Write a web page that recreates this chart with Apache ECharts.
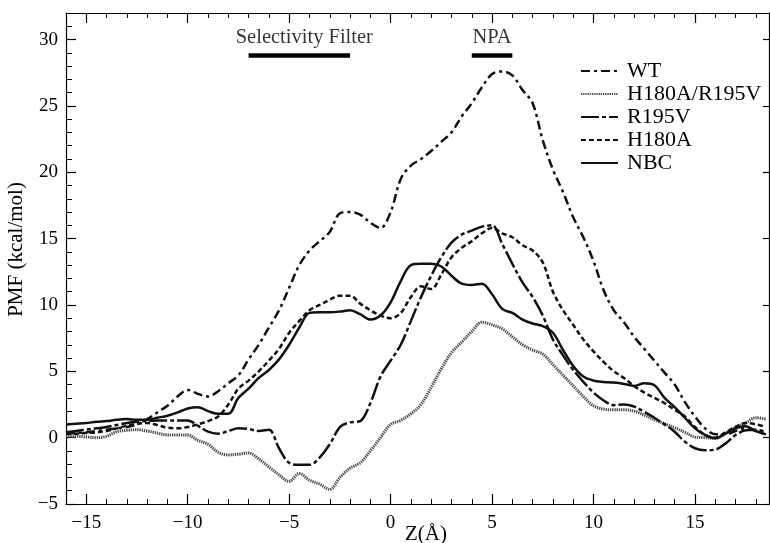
<!DOCTYPE html>
<html>
<head>
<meta charset="utf-8">
<script src="https://cdn.jsdelivr.net/npm/echarts@6/dist/echarts.min.js"></script>
<style>
html,body{margin:0;padding:0;background:#fff;}
#chart{width:770px;height:543px;}
</style>
</head>
<body>
<div id="chart"></div>
<script>
// ---- data ----
const xs = [-16,-15.5,-15,-14.5,-14,-13.5,-13,-12.5,-12,-11.5,-11,-10.5,-10,-9.5,-9,-8.5,-8,-7.5,-7,-6.5,-6,-5.5,-5,-4.5,-4,-3.5,-3,-2.5,-2,-1.5,-1,-0.5,0,0.5,1,1.5,2,2.5,3,3.5,4,4.5,5,5.5,6,6.5,7,7.5,8,8.5,9,9.5,10,10.5,11,11.5,12,12.5,13,13.5,14,14.5,15,15.5,16,16.5,17,17.5,18,18.5];

const wt = [0.3,0.35,0.4,0.5,0.6,0.7,0.8,1.0,1.4,1.9,2.4,3.1,3.6,3.3,3.1,3.5,4.1,4.7,5.9,7.0,8.3,9.6,11.3,13.0,14.1,14.8,15.5,16.9,17.0,16.8,16.2,15.8,17.0,19.5,20.5,21.0,21.6,22.3,23.0,24.2,25.2,26.4,27.4,27.6,27.3,26.2,25.2,22.4,20.2,18.5,16.6,15.1,13.3,11.1,9.6,8.7,7.6,6.7,5.8,4.9,4.0,2.7,1.6,0.7,0.25,0.25,0.5,0.7,0.5,0.2];

const h180aR195v = [0.1,0.1,0.05,0.0,0.1,0.45,0.55,0.6,0.5,0.35,0.2,0.2,0.2,-0.2,-0.5,-1.1,-1.3,-1.25,-1.15,-1.6,-2.2,-2.8,-3.3,-2.7,-3.2,-3.5,-3.9,-3.0,-2.3,-1.9,-1.0,0.0,1.0,1.3,1.8,2.5,3.8,5.2,6.4,7.2,8.0,8.7,8.5,8.2,7.6,7.0,6.6,6.3,5.5,4.7,3.9,3.1,2.4,2.15,2.1,2.1,2.0,1.7,1.35,1.05,0.75,0.4,0.05,0.0,-0.05,0.3,0.8,1.1,1.5,1.4];

const r195v = [0.4,0.5,0.6,0.7,0.8,0.95,1.1,1.2,1.25,1.3,1.3,1.3,1.3,0.9,0.45,0.3,0.5,0.7,0.65,0.5,0.6,-0.8,-1.9,-2.05,-2.05,-1.5,-0.5,0.8,1.15,1.25,2.6,4.6,5.8,7.0,8.8,10.6,12.2,13.6,14.7,15.3,15.6,15.9,16.0,14.6,13.1,11.7,10.6,9.2,7.4,6.2,5.1,4.2,3.4,2.8,2.45,2.5,2.35,1.95,1.5,1.0,0.45,-0.3,-0.8,-0.95,-0.9,-0.45,0.2,0.55,0.6,0.4];

const h180a = [0.3,0.3,0.35,0.4,0.5,0.7,0.9,1.05,1.1,0.95,0.75,0.7,0.8,1.0,1.25,1.6,2.5,3.7,4.3,5.0,5.8,6.7,7.9,8.8,9.6,10.0,10.4,10.7,10.7,10.1,9.6,9.2,9.0,9.4,10.6,11.4,11.2,12.3,13.6,14.3,14.8,15.4,15.8,15.4,15.1,14.5,14.1,13.2,11.0,9.6,8.5,7.4,6.5,5.7,5.0,4.5,3.9,3.4,3.0,2.6,2.1,1.6,0.8,0.2,0.0,0.4,0.8,1.1,1.0,0.8];

const nbc = [1.0,1.05,1.1,1.2,1.25,1.35,1.4,1.35,1.35,1.5,1.65,1.9,2.2,2.3,2.0,1.8,1.8,3.0,3.7,4.5,5.1,5.9,7.0,8.3,9.4,9.45,9.45,9.5,9.6,9.3,8.9,9.2,10.2,11.8,13.0,13.1,13.1,12.9,12.2,11.6,11.5,11.6,10.8,9.7,9.4,8.9,8.6,8.4,7.9,6.6,5.4,4.6,4.3,4.2,4.15,4.05,3.9,4.1,3.95,3.0,2.3,1.5,0.7,0.2,-0.05,0.3,0.7,0.85,0.5,0.25];

const seriesNames = ['WT', 'H180A/R195V', 'R195V', 'H180A', 'NBC'];
const xMajorTicks = [-15, -10, -5, 0, 5, 10, 15];
const xMinorTicks = [-16,-15,-14,-13,-12,-11,-10,-9,-8,-7,-6,-5,-4,-3,-2,-1,0,1,2,3,4,5,6,7,8,9,10,11,12,13,14,15,16,17,18];
const yMajorTicks = [-5, 0, 5, 10, 15, 20, 25, 30];
const yMinorTicks = [-5,-4,-3,-2,-1,0,1,2,3,4,5,6,7,8,9,10,11,12,13,14,15,16,17,18,19,20,21,22,23,24,25,26,27,28,29,30,31];
const regionNames = ['Selectivity Filter', 'NPA'];
const regionStart = [-7, 4];
const regionEnd = [-2, 6];
const regionLevel = 28.8;

// ---- chart ----
const FONT = 'Liberation Serif';
const BLACK = '#000';
const fmt = v => (v < 0 ? '\u2212' + Math.abs(v) : String(v));
const pairs = arr => xs.map((x, i) => [x, arr[i]]);

const styles = [
  { color: '#111', width: 2.5, type: [9, 4, 3, 4] },
  { color: '#4a4a4a', width: 3, type: [1.3, 0.9] },
  { color: '#111', width: 2.5, type: [18, 3, 4, 3] },
  { color: '#111', width: 2.5, type: [5, 3] },
  { color: '#111', width: 2.5, type: 'solid' }
];
const values = [wt, h180aR195v, r195v, h180a, nbc];

const XMIN = -16, XMAX = 18.65, YMIN = -5, YMAX = 32;
const axisLine = { show: true, onZero: false, lineStyle: { color: BLACK, width: 1.2 } };
const hiddenLine = { show: false, onZero: false };

const series = values.map((arr, i) => ({
  name: seriesNames[i],
  type: 'line',
  data: pairs(arr),
  showSymbol: false,
  symbol: 'none',
  smooth: 0.35,
  lineStyle: styles[i],
  itemStyle: { color: 'rgba(0,0,0,0)' },
  z: 3,
  silent: true
}));

regionNames.forEach((nm, i) => {
  series.push({
    type: 'line',
    data: [[regionStart[i], regionLevel], [regionEnd[i], regionLevel]],
    showSymbol: false,
    symbol: 'none',
    lineStyle: { color: BLACK, width: 4.5, cap: 'butt' },
    silent: true
  });
  series.push({
    type: 'scatter',
    data: [[(regionStart[i] + regionEnd[i]) / 2, regionLevel]],
    symbolSize: 0,
    silent: true,
    label: {
      show: true, position: 'top', distance: 7,
      formatter: nm, fontFamily: FONT, fontSize: 20.5, color: BLACK,
      offset: [i === 0 ? 5 : 0, 0]
    }
  });
});

const chart = echarts.init(document.getElementById('chart'), null, { renderer: 'canvas' });
chart.setOption({
  animation: false,
  backgroundColor: '#fff',
  grid: { left: 66, right: 1, top: 13, bottom: 39, containLabel: false, outerBoundsMode: 'none' },
  legend: {
    data: seriesNames,
    orient: 'vertical',
    left: 580, top: 60,
    padding: 0,
    itemWidth: 37, itemHeight: 14, itemGap: 1,
    textStyle: { fontFamily: FONT, fontSize: 22, color: BLACK, lineHeight: 21, padding: [0, 0, 0, 4] },
    selectedMode: false
  },
  xAxis: [
    {
      type: 'value', min: XMIN, max: XMAX, position: 'bottom',
      axisLine,
      axisTick: { show: true, inside: true, length: 10, customValues: xMajorTicks, lineStyle: { color: BLACK, width: 1.2 } },
      axisLabel: { show: true, customValues: xMajorTicks, formatter: fmt, fontFamily: FONT, fontSize: 19, color: BLACK, margin: 10 },
      splitLine: { show: false },
      name: 'Z(Å)', nameLocation: 'middle', nameGap: 20, nameMoveOverlap: false,
      nameTextStyle: { fontFamily: FONT, fontSize: 21, color: BLACK, padding: [0, 0, 0, 17] }
    },
    {
      type: 'value', min: XMIN, max: XMAX, position: 'bottom',
      axisLine: hiddenLine,
      axisTick: { show: true, inside: true, length: 5, customValues: xMinorTicks, lineStyle: { color: BLACK, width: 1 } },
      axisLabel: { show: false }, splitLine: { show: false }
    },
    {
      type: 'value', min: XMIN, max: XMAX, position: 'top',
      axisLine,
      axisTick: { show: true, inside: true, length: 10, customValues: xMajorTicks, lineStyle: { color: BLACK, width: 1.2 } },
      axisLabel: { show: false }, splitLine: { show: false }
    },
    {
      type: 'value', min: XMIN, max: XMAX, position: 'top',
      axisLine: hiddenLine,
      axisTick: { show: true, inside: true, length: 5, customValues: xMinorTicks, lineStyle: { color: BLACK, width: 1 } },
      axisLabel: { show: false }, splitLine: { show: false }
    }
  ],
  yAxis: [
    {
      type: 'value', min: YMIN, max: YMAX, position: 'left',
      axisLine,
      axisTick: { show: true, inside: true, length: 10, customValues: yMajorTicks, lineStyle: { color: BLACK, width: 1.2 } },
      axisLabel: { show: true, customValues: yMajorTicks, formatter: fmt, fontFamily: FONT, fontSize: 19, color: BLACK, margin: 8 },
      splitLine: { show: false },
      name: 'PMF (kcal/mol)', nameLocation: 'middle', nameGap: 39, nameRotate: 90,
      nameTextStyle: { fontFamily: FONT, fontSize: 21, color: BLACK, padding: [0, 0, 0, 18] }
    },
    {
      type: 'value', min: YMIN, max: YMAX, position: 'left',
      axisLine: hiddenLine,
      axisTick: { show: true, inside: true, length: 6, customValues: yMinorTicks, lineStyle: { color: BLACK, width: 1 } },
      axisLabel: { show: false }, splitLine: { show: false }
    },
    {
      type: 'value', min: YMIN, max: YMAX, position: 'right',
      axisLine,
      axisTick: { show: true, inside: true, length: 6, customValues: yMajorTicks, lineStyle: { color: BLACK, width: 1.2 } },
      axisLabel: { show: false }, splitLine: { show: false }
    }
  ],
  series
});
</script>
</body>
</html>
